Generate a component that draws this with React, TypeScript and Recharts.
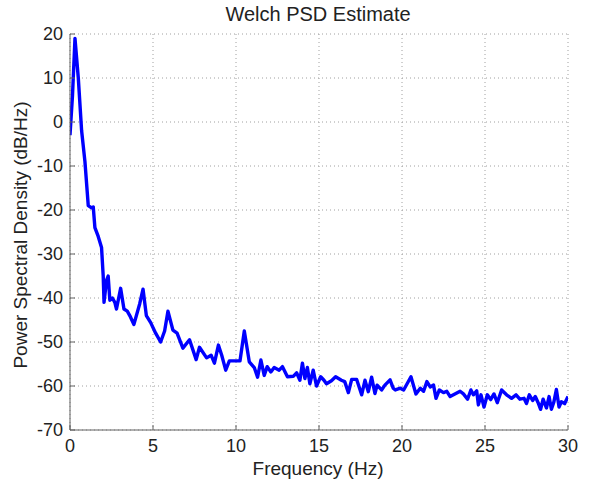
import { LineChart, Line, XAxis, YAxis, CartesianGrid } from "recharts";

const freqHz = [
  0, 0.15, 0.3, 0.5, 0.7, 0.9, 1.1, 1.3, 1.4, 1.5, 1.7, 1.9, 2.0, 2.05, 2.2, 2.3,
  2.4, 2.55, 2.7, 2.8, 3.05, 3.25, 3.45, 3.6, 3.85, 4.2, 4.4, 4.6, 4.86, 5.16,
  5.46, 5.7, 5.9, 6.2, 6.45, 6.8, 7.2, 7.6, 7.8, 8.23, 8.5, 8.7, 8.94, 9.14, 9.38,
  9.6, 10.24, 10.5, 10.8, 11.1, 11.3, 11.5, 11.7, 11.88, 12.1, 12.3, 12.6, 12.8,
  13.1, 13.45, 13.65, 13.85, 14.0, 14.15, 14.3, 14.45, 14.65, 14.85, 15.1, 15.3,
  15.45, 15.75, 16.0, 16.35, 16.55, 16.77, 16.97, 17.27, 17.57, 17.77, 17.97,
  18.17, 18.37, 18.5, 18.77, 18.97, 19.28, 19.47, 19.6, 19.9, 20.1, 20.54, 20.84,
  21.1, 21.3, 21.5, 21.7, 21.9, 22.05, 22.25, 22.5, 22.7, 22.9, 23.5, 23.7, 23.95,
  24.15, 24.3, 24.5, 24.6, 24.76, 24.94, 25.14, 25.34, 25.54, 25.74, 26.0, 26.3,
  26.6, 26.87, 27.1, 27.35, 27.5, 27.67, 27.87, 28.03, 28.2, 28.35, 28.5, 28.7,
  28.86, 29.0, 29.15, 29.3, 29.46, 29.6, 29.8, 30,
];

const psdDb = [
  -3, 6, 19, 10, -2, -9, -19, -19.5, -19.3, -24, -26, -28.5, -35, -41, -36, -35,
  -40.5, -40, -41, -42.5, -37.8, -42.5, -43, -44, -46, -41.3, -38, -44, -45.6, -48,
  -50, -47.5, -43, -47.3, -48, -51.4, -49.5, -54, -51.2, -53.6, -53, -54.8, -50.7,
  -53, -56.4, -54.3, -54.3, -47.5, -54.5, -55.8, -58, -54.1, -57.6, -55.6, -56.8,
  -55.8, -56.4, -55.6, -57.9, -57.8, -57, -58.7, -54.8, -58.3, -55.8, -59.5, -56.4,
  -60, -57.9, -58.7, -59.5, -58.8, -57.9, -58.7, -59, -61.5, -58.5, -58.5, -62,
  -58.7, -61.3, -58, -61.7, -59.8, -60.9, -59.8, -58.6, -60.5, -60.9, -60.5, -60.9,
  -57.9, -61.8, -60.5, -61.2, -59, -60.2, -59.8, -62.8, -60.9, -61.5, -61.2, -62.4,
  -61.2, -61.8, -63, -60.9, -62, -61.1, -64.3, -62, -64.8, -62, -63.1, -61.8, -63.8,
  -60.9, -62, -62.8, -62, -63, -62.8, -64, -62, -63.3, -62.4, -63.8, -65.3, -63,
  -65, -62.4, -65.3, -63.6, -60.8, -64.8, -63.6, -64, -62.4,
];

const xTicks = [0, 5, 10, 15, 20, 25, 30];
const yTicks = [20, 10, 0, -10, -20, -30, -40, -50, -60, -70];

const data = freqHz.map((f, i) => ({ f, psd: psdDb[i] }));

const FONT = '"Liberation Sans", Arial, sans-serif';
const FRAME = "#606060";

export default function App() {
  return (
    <div style={{ position: "absolute", left: 0, top: 0, width: 595, height: 481, background: "#fff" }}>
      <LineChart
        width={595}
        height={481}
        data={data}
        margin={{ top: 34, right: 27, left: 0, bottom: 0 }}
      >
        <CartesianGrid stroke="#a0a0a0" strokeDasharray="1 3" />
        <XAxis
          dataKey="f"
          type="number"
          domain={[0, 30]}
          ticks={xTicks}
          height={51}
          stroke={FRAME}
          tickSize={-5}
          tickMargin={14}
          tick={{ fill: "#222", fontSize: 18, fontFamily: FONT }}
          allowDataOverflow
        />
        <XAxis
          xAxisId="top"
          dataKey="f"
          type="number"
          orientation="top"
          domain={[0, 30]}
          ticks={xTicks}
          height={0}
          stroke={FRAME}
          tickSize={-5}
          tick={false}
        />
        <YAxis
          type="number"
          domain={[-70, 20]}
          ticks={yTicks}
          width={70}
          stroke={FRAME}
          tickSize={-5}
          tickMargin={12}
          tick={{ fill: "#222", fontSize: 18, fontFamily: FONT }}
          allowDataOverflow
        />
        <YAxis
          yAxisId="right"
          type="number"
          orientation="right"
          domain={[-70, 20]}
          ticks={yTicks}
          width={0}
          stroke={FRAME}
          tickSize={-5}
          tick={false}
        />
        <Line
          dataKey="psd"
          type="linear"
          stroke="#0000ff"
          strokeWidth={3.4}
          strokeLinejoin="round"
          dot={false}
          isAnimationActive={false}
        />
      </LineChart>
      <svg
        width={595}
        height={481}
        style={{ position: "absolute", left: 0, top: 0, pointerEvents: "none" }}
      >
        <text x={318} y={21} textAnchor="middle" fontSize={20} fontFamily={FONT} fill="#222">
          Welch PSD Estimate
        </text>
        <text x={318} y={475} textAnchor="middle" fontSize={19} fontFamily={FONT} fill="#222">
          Frequency (Hz)
        </text>
        <text
          transform="translate(27,235) rotate(-90)"
          textAnchor="middle"
          fontSize={19}
          fontFamily={FONT}
          fill="#222"
        >
          Power Spectral Density (dB/Hz)
        </text>
      </svg>
    </div>
  );
}
